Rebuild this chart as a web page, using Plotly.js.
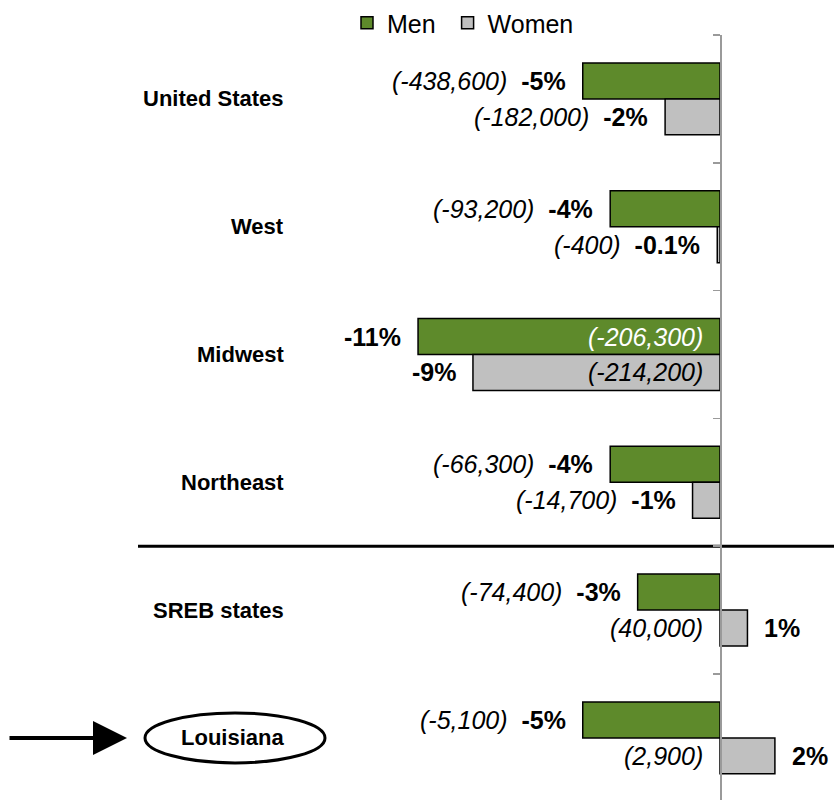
<!DOCTYPE html>
<html>
<head>
<meta charset="utf-8">
<script src="https://cdn.plot.ly/plotly-3.0.1.min.js"></script>
<style>html,body{margin:0;padding:0;background:#fff}#chart{width:834px;height:800px}</style>
</head>
<body>
<div id="chart"></div>
<script>
var categories = ['United States', 'West', 'Midwest', 'Northeast', 'SREB states', 'Louisiana'];
var menPct = [-5, -4, -11, -4, -3, -5];
var womenPct = [-2, -0.1, -9, -1, 1, 2];
var menCount = ['(-438,600)', '(-93,200)', '(-206,300)', '(-66,300)', '(-74,400)', '(-5,100)'];
var womenCount = ['(-182,000)', '(-400)', '(-214,200)', '(-14,700)', '(40,000)', '(2,900)'];
var highlight = 'Louisiana';
var separatorAfter = 'Northeast';

var FONT = 'Arial, "Liberation Sans", sans-serif';
var GREEN = '#5E8A2B', GRAY = '#C0C0C0', AXIS = '#9A9A9A';
var bargap = 0.437;
var half = (1 - bargap) / 4; // offset of each bar centre from the category centre

var traces = [
  {type: 'bar', orientation: 'h', name: 'Men&nbsp;', y: categories, x: menPct,
   marker: {color: GREEN, line: {color: '#000', width: 1.5}}, hoverinfo: 'skip'},
  {type: 'bar', orientation: 'h', name: 'Women', y: categories, x: womenPct,
   marker: {color: GRAY, line: {color: '#000', width: 1.5}}, hoverinfo: 'skip'}
];

var annotations = [];
var GAP = 15;
function addLabels(vals, counts, sign, insideColor) {
  vals.forEach(function (v, i) {
    var y = i + sign * half;
    var pct = '<b>' + v + '%</b>';
    var cnt = '<i>' + counts[i] + '</i>';
    var base = {xref: 'x', yref: 'y', y: y, yanchor: 'middle', showarrow: false,
                font: {family: FONT, size: 25, color: '#000'}};
    if (v <= -8) {
      annotations.push(Object.assign({}, base, {x: v, xanchor: 'right', xshift: -GAP, text: pct}));
      annotations.push(Object.assign({}, base, {x: 0, xanchor: 'right', xshift: -GAP,
        text: cnt, font: {family: FONT, size: 25, color: insideColor}}));
    } else if (v > 0) {
      annotations.push(Object.assign({}, base, {x: 0, xanchor: 'right', xshift: -GAP, text: cnt}));
      annotations.push(Object.assign({}, base, {x: v, xanchor: 'left', xshift: GAP, text: pct}));
    } else {
      annotations.push(Object.assign({}, base, {x: v, xanchor: 'right', xshift: -GAP,
        text: cnt + '&nbsp;&nbsp;' + pct}));
    }
  });
}
addLabels(menPct, menCount, -1, '#FFFFFF');
addLabels(womenPct, womenCount, 1, '#000000');

categories.forEach(function (c, i) {
  annotations.push({xref: 'paper', yref: 'y', x: 286 / 834, y: i, xanchor: 'right', yanchor: 'middle',
    showarrow: false, text: '<b>' + c + '</b>', font: {family: FONT, size: 22, color: '#000'}});
});

var hi = categories.indexOf(highlight);
annotations.push({xref: 'paper', yref: 'y', x: 127 / 834, y: hi, ax: -119, ay: 0,
  showarrow: true, arrowhead: 2, arrowsize: 1.7, arrowwidth: 4, arrowcolor: '#000', text: ''});

var sep = categories.indexOf(separatorAfter) + 0.5;
var shapes = [
  {type: 'line', xref: 'paper', yref: 'y', x0: 138 / 834, x1: 1, y0: sep, y1: sep,
   line: {color: '#000', width: 3}, layer: 'below'},
  {type: 'circle', xref: 'paper', yref: 'y', ysizemode: 'pixel', yanchor: hi,
   x0: 145 / 834, x1: 325 / 834, y0: -25, y1: 25, line: {color: '#000', width: 3}}
];

var layout = {
  width: 834, height: 800,
  margin: {l: 0, r: 0, t: 35, b: 0, pad: 0},
  paper_bgcolor: '#fff', plot_bgcolor: '#fff',
  barmode: 'group', bargap: bargap, bargroupgap: 0,
  font: {family: FONT, size: 25, color: '#000'},
  showlegend: true,
  legend: {orientation: 'h', x: 347 / 834, xanchor: 'left', y: 1.0157, yanchor: 'middle',
    font: {family: FONT, size: 25, color: '#000'}, bgcolor: 'rgba(0,0,0,0)', traceorder: 'normal'},
  xaxis: {range: [-720 / 27.45, 114 / 27.45], showgrid: false, zeroline: false,
    showticklabels: false, ticks: '', showline: false, fixedrange: true},
  yaxis: {type: 'category', range: [5.486, -0.5], anchor: 'free', position: 720 / 834,
    showline: true, linecolor: AXIS, linewidth: 1.5, ticks: 'outside', tickson: 'boundaries',
    ticklen: 7, tickcolor: AXIS, tickwidth: 1.5, showgrid: false, zeroline: false,
    showticklabels: false, fixedrange: true},
  annotations: annotations,
  shapes: shapes
};

Plotly.newPlot('chart', traces, layout, {displayModeBar: false, staticPlot: true});
</script>
</body>
</html>
